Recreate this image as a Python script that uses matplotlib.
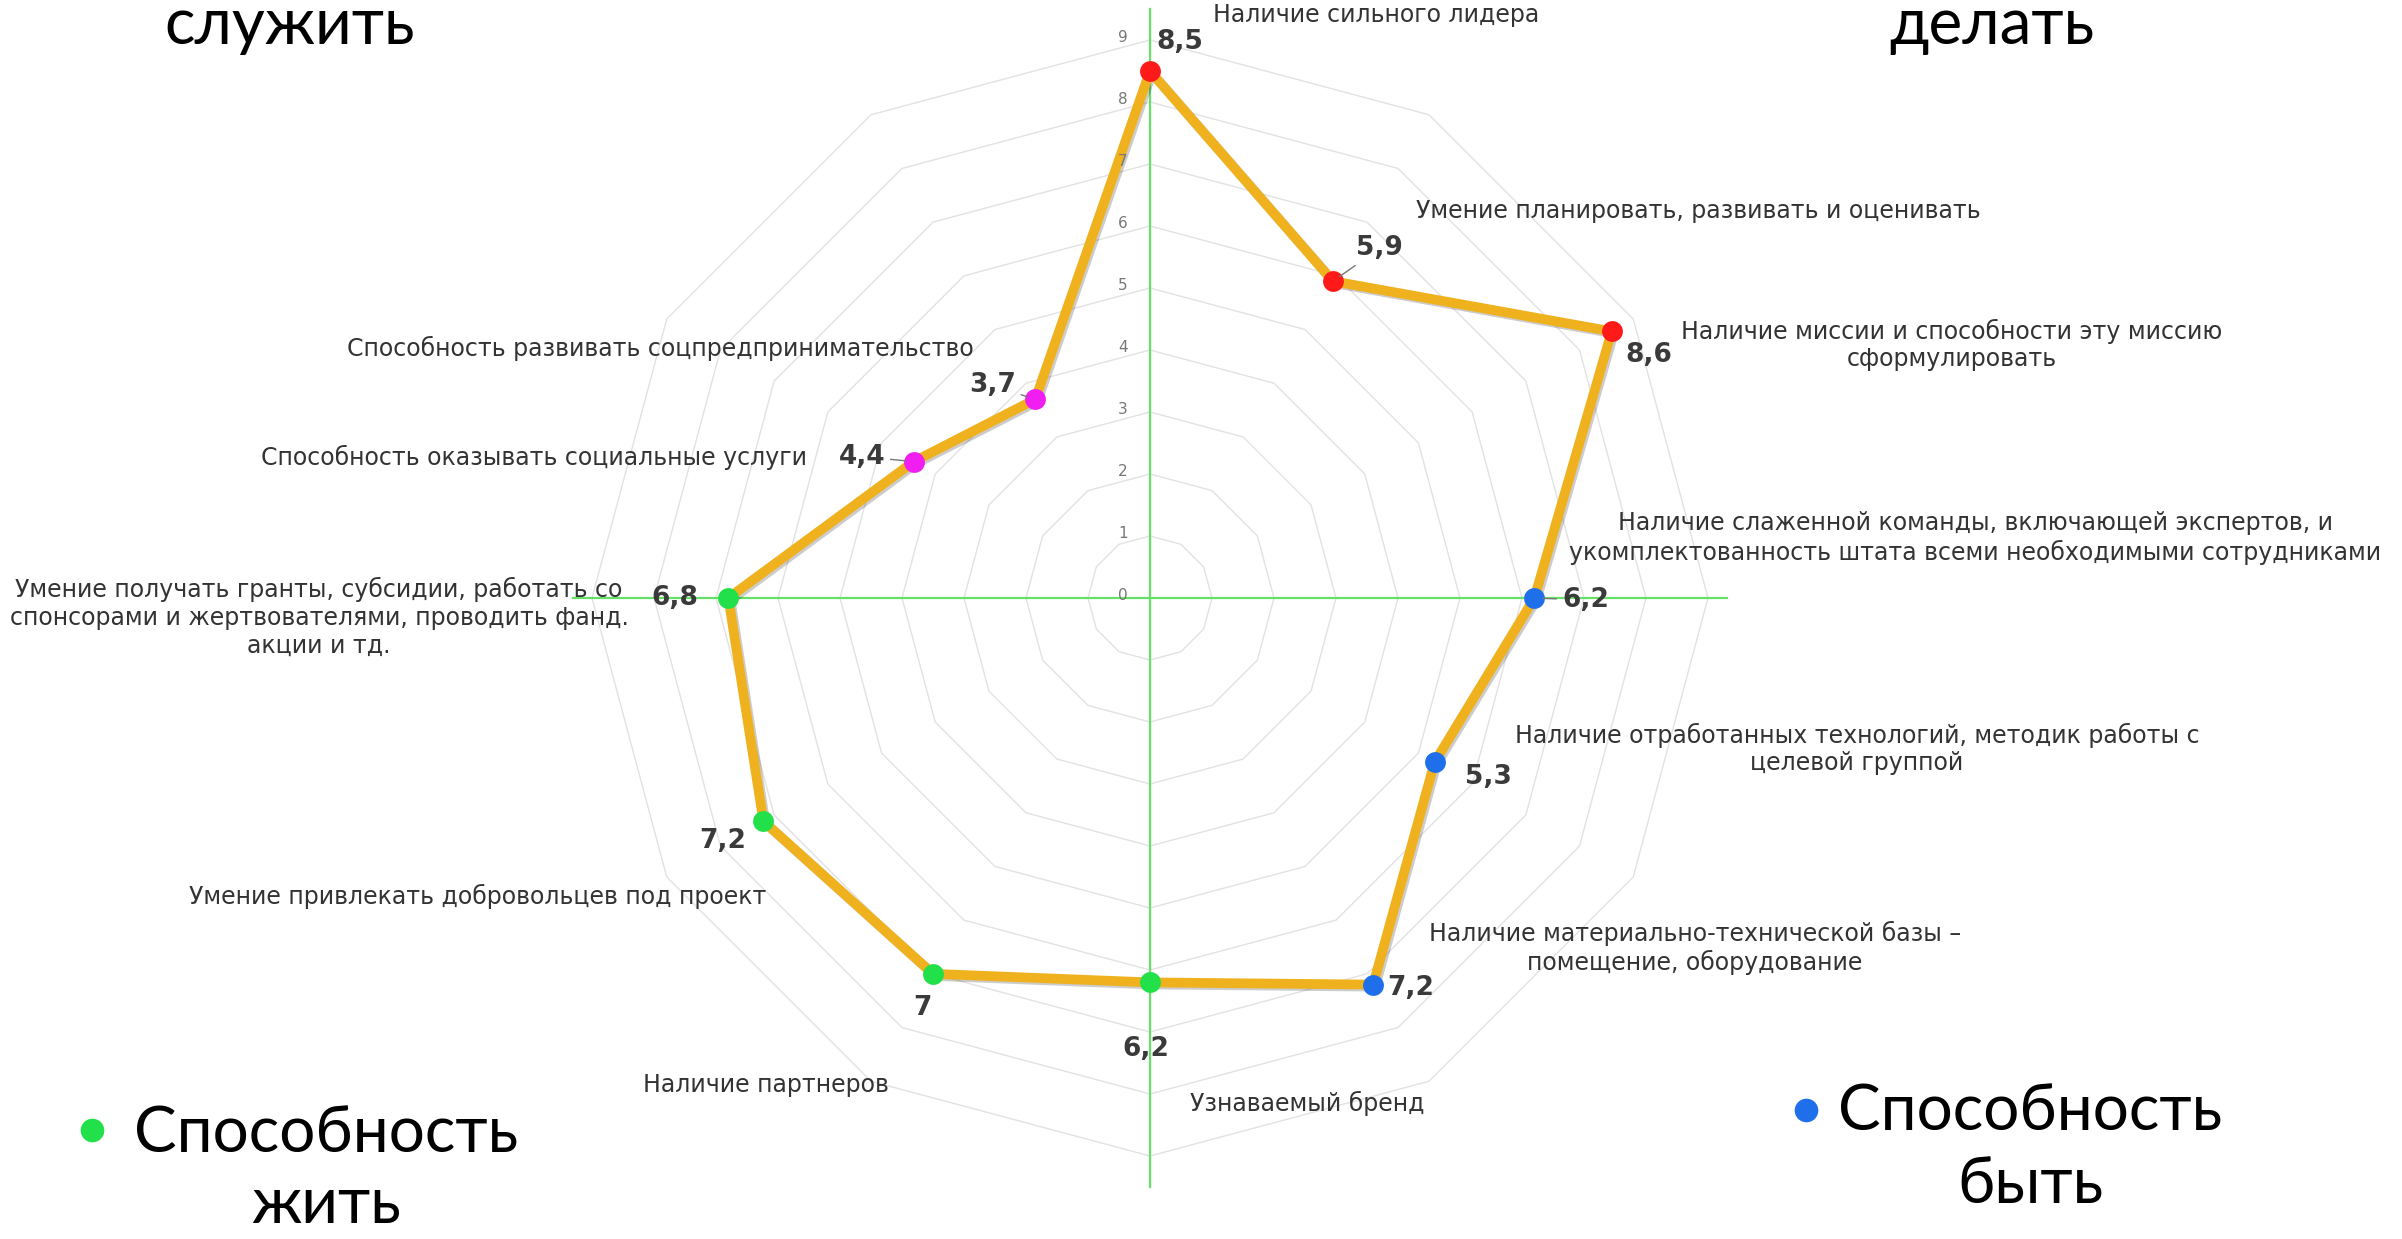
import numpy as np
import matplotlib.pyplot as plt
from matplotlib import patheffects as pe

W, H = 2402, 1239          # canvas in px
CX, CY = 1150, 598         # centre of the web (px from top-left)
UNIT = 62                  # px per scale unit

categories = [
    "Наличие сильного лидера",
    "Умение планировать, развивать и оценивать",
    "Наличие миссии и способности эту миссию\nсформулировать",
    "Наличие слаженной команды, включающей экспертов, и\nукомплектованность штата всеми необходимыми сотрудниками",
    "Наличие отработанных технологий, методик работы с\nцелевой группой",
    "Наличие материально-технической базы –\nпомещение, оборудование",
    "Узнаваемый бренд",
    "Наличие партнеров",
    "Умение привлекать добровольцев под проект",
    "Умение получать гранты, субсидии, работать со\nспонсорами и жертвователями, проводить фанд.\nакции и тд.",
    "Способность оказывать социальные услуги",
    "Способность развивать соцпредпринимательство",
]
values = [8.5, 5.9, 8.6, 6.2, 5.3, 7.2, 6.2, 7.0, 7.2, 6.8, 4.4, 3.7]
groups = ["делать"] * 3 + ["быть"] * 3 + ["жить"] * 4 + ["служить"] * 2
group_colors = {"делать": "#ff1a1a", "быть": "#1f6feb",
                "жить": "#22e04a", "служить": "#f01ef0"}
ticks = list(range(10))

# where the category captions sit (px) and how they are aligned
label_pos = [(1213, 15, "left"), (1416, 211, "left"), (1952, 345, "center"),
             (1975, 538, "center"), (1857, 749, "center"), (1695, 948, "center"),
             (1190, 1103, "left"), (766, 1085, "center"), (766, 896, "right"),
             (319, 617, "center"), (807, 457, "right"), (974, 348, "right")]
# value label offsets from the point, px (x right, y up)
val_off = [(30, 29), (47, 33), (37, -24), (51, -2), (54, -15), (37, -3),
           (-4, -67), (-11, -34), (-41, -20), (-54, 0), (-52, 5), (-43, 14)]
leaders = {1, 3, 10, 11}

fig = plt.figure(figsize=(W / 100, H / 100), dpi=100)
ax = fig.add_axes([0, 0, 1, 1])
ax.set_xlim(-CX / UNIT, (W - CX) / UNIT)
ax.set_ylim(-(H - CY) / UNIT, CY / UNIT)
ax.set_aspect("equal")
ax.axis("off")


def fig_xy(x, y):
    return x / W, 1 - y / H


n = len(values)
theta = np.arange(n) * 2 * np.pi / n
sx, sy = np.sin(theta), np.cos(theta)

# 12-sided grid rings
for k in ticks[1:]:
    ax.plot(np.append(sx, sx[0]) * k, np.append(sy, sy[0]) * k,
            color="#e2e2e2", lw=1.0, zorder=1)
for k in ticks:
    ax.text(-27 / UNIT, k + 3 / UNIT, str(k), ha="center", va="center",
            fontsize=11, color="#777777", zorder=3.5)

# green cross through the centre
ax.plot([-9.3, 9.3], [0, 0], color="#66e066", lw=1.6, zorder=2)
ax.plot([0, 0], [-9.5, 9.5], color="#66e066", lw=1.6, zorder=2)

r = np.array(values)
px_, py_ = r * sx, r * sy
ax.plot(np.append(px_, px_[0]), np.append(py_, py_[0]), color="#efb21e",
        lw=7, solid_joinstyle="round", zorder=3,
        path_effects=[pe.SimpleLineShadow(offset=(1.5, -1.5), alpha=0.2), pe.Normal()])
for i in range(n):
    ax.plot(px_[i], py_[i], "o", ms=15, color=group_colors[groups[i]],
            mec="none", zorder=4)

# value labels
for i, v in enumerate(values):
    txt = f"{v:g}".replace(".", ",")
    kw = {}
    if i in leaders:
        kw["arrowprops"] = dict(arrowstyle="-", color="#777777", lw=1,
                                shrinkA=2, shrinkB=6)
    ax.annotate(txt, (px_[i], py_[i]), xytext=val_off[i],
                textcoords="offset pixels", ha="center", va="center",
                fontsize=19, fontweight="bold", color="#3a3a3a", zorder=5, **kw)

# category captions
for cat, (x, y, ha) in zip(categories, label_pos):
    fig.text(*fig_xy(x, y), cat, ha=ha, va="center", multialignment=ha,
             fontsize=17, color="#333333", linespacing=1.2)

# group headings
big = dict(family=["Lato", "DejaVu Sans"], fontsize=46, color="black",
           ha="center", va="baseline")
fig.text(*fig_xy(290, 44), "служить", **big)
fig.text(*fig_xy(1992, 44), "делать", **big)
fig.text(*fig_xy(326, 1152), "Способность", **big)
fig.text(*fig_xy(326, 1223), "жить", **big)
fig.text(*fig_xy(2030, 1130), "Способность", **big)
fig.text(*fig_xy(2031, 1203), "быть", **big)
for (x, y), g in [((92, 1130), "жить"), ((1806, 1110), "быть")]:
    ax.plot(*fig_xy(x, y), "o", ms=17, color=group_colors[g], mec="none",
            transform=fig.transFigure, clip_on=False)

fig.savefig("out.png", dpi=100, facecolor="white")
